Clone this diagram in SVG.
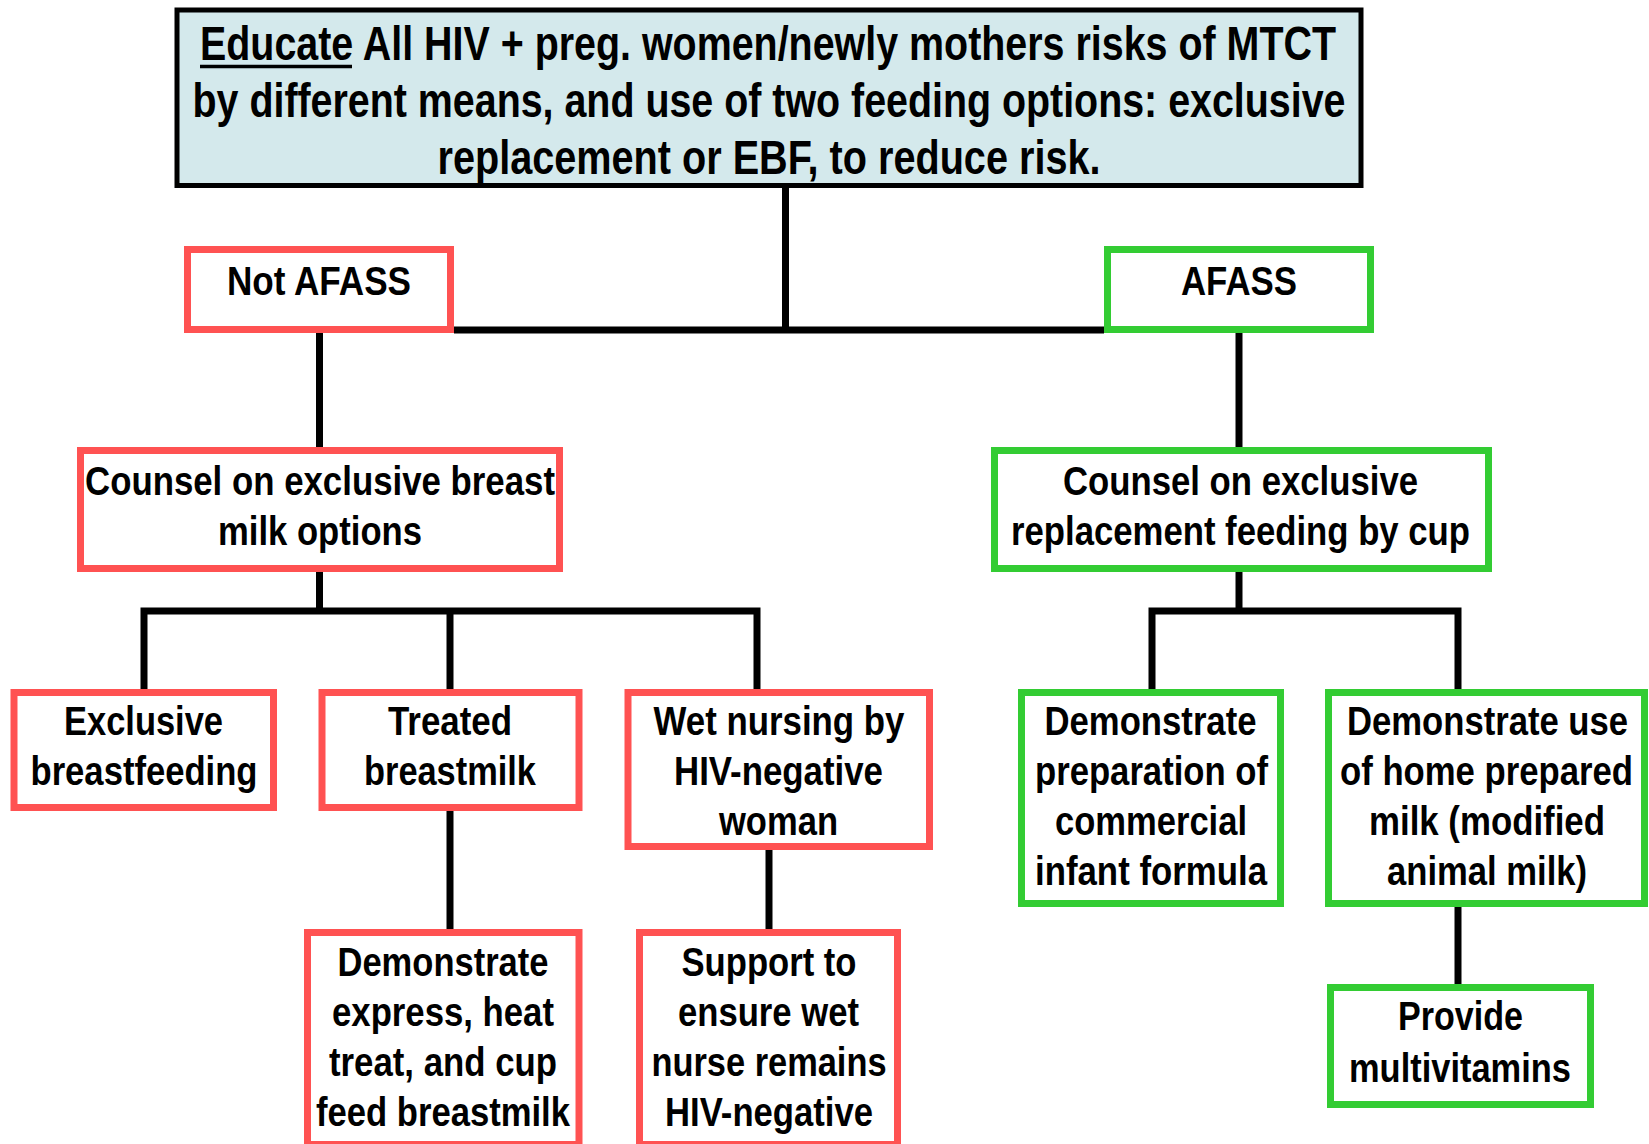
<svg xmlns="http://www.w3.org/2000/svg" width="1649" height="1144" viewBox="0 0 1649 1144">
<style>
.t{font-family:"Liberation Sans",Arial,sans-serif;font-weight:bold;fill:#000;text-anchor:middle}
.b{font-size:41px}
.h{font-size:49px}
.red{fill:#fff;stroke:#ff5252;stroke-width:7}
.grn{fill:#fff;stroke:#33cc33;stroke-width:7}
.top{fill:#d4e9ec;stroke:#000;stroke-width:5}
.c{fill:none;stroke:#000;stroke-width:7;stroke-linejoin:miter}
</style>
<rect width="1649" height="1144" fill="#fff"/>
<g id="connectors">
<path class="c" d="M785.5 187V330"/>
<path class="c" d="M454 330H1104"/>
<path class="c" d="M319.5 333V447"/>
<path class="c" d="M1239 333V447"/>
<path class="c" d="M319.5 572V611"/>
<path class="c" d="M144 689V611H757V689"/>
<path class="c" d="M450 611V689"/>
<path class="c" d="M450 811V929"/>
<path class="c" d="M769 850V929"/>
<path class="c" d="M1239 572V611"/>
<path class="c" d="M1152 689V611H1458V689"/>
<path class="c" d="M1458 907V984"/>
</g>
<g id="educate">
<rect class="top" x="177" y="10" width="1184" height="175.5"/>
<text class="t h" x="768" y="60" textLength="1136" lengthAdjust="spacingAndGlyphs">Educate All HIV + preg. women/newly mothers risks of MTCT</text>
<line x1="200" y1="66.5" x2="352" y2="66.5" stroke="#000" stroke-width="3.5"/>
<text class="t h" x="769" y="117" textLength="1153" lengthAdjust="spacingAndGlyphs">by different means, and use of two feeding options: exclusive</text>
<text class="t h" x="769" y="174" textLength="663" lengthAdjust="spacingAndGlyphs">replacement or EBF, to reduce risk.</text>
</g>
<g id="not-afass">
<rect class="red" x="187.5" y="249.5" width="263" height="80"/>
<text class="t b" x="319" y="295" textLength="184" lengthAdjust="spacingAndGlyphs">Not AFASS</text>
</g>
<g id="afass">
<rect class="grn" x="1107.5" y="249.5" width="263" height="80"/>
<text class="t b" x="1239" y="295" textLength="116" lengthAdjust="spacingAndGlyphs">AFASS</text>
</g>
<g id="counsel-breast">
<rect class="red" x="80.5" y="450.5" width="479" height="118"/>
<text class="t b" x="320" y="495" textLength="470" lengthAdjust="spacingAndGlyphs">Counsel on exclusive breast</text>
<text class="t b" x="320" y="545" textLength="204" lengthAdjust="spacingAndGlyphs">milk options</text>
</g>
<g id="counsel-replacement">
<rect class="grn" x="994.5" y="450.5" width="494" height="118"/>
<text class="t b" x="1240.5" y="495" textLength="355" lengthAdjust="spacingAndGlyphs">Counsel on exclusive</text>
<text class="t b" x="1240.5" y="545" textLength="459" lengthAdjust="spacingAndGlyphs">replacement feeding by cup</text>
</g>
<g id="exclusive-bf">
<rect class="red" x="14" y="692.5" width="259.5" height="115"/>
<text class="t b" x="143.5" y="735" textLength="159" lengthAdjust="spacingAndGlyphs">Exclusive</text>
<text class="t b" x="144" y="785" textLength="227" lengthAdjust="spacingAndGlyphs">breastfeeding</text>
</g>
<g id="treated">
<rect class="red" x="322" y="692.5" width="257" height="115"/>
<text class="t b" x="450" y="735" textLength="124" lengthAdjust="spacingAndGlyphs">Treated</text>
<text class="t b" x="450" y="785" textLength="172" lengthAdjust="spacingAndGlyphs">breastmilk</text>
</g>
<g id="wet-nursing">
<rect class="red" x="628" y="692.5" width="301.5" height="154"/>
<text class="t b" x="779" y="735" textLength="251" lengthAdjust="spacingAndGlyphs">Wet nursing by</text>
<text class="t b" x="778.5" y="785" textLength="209" lengthAdjust="spacingAndGlyphs">HIV-negative</text>
<text class="t b" x="778.5" y="835" textLength="119" lengthAdjust="spacingAndGlyphs">woman</text>
</g>
<g id="demo-express">
<rect class="red" x="307.5" y="932.5" width="271.5" height="212"/>
<text class="t b" x="443" y="976" textLength="211" lengthAdjust="spacingAndGlyphs">Demonstrate</text>
<text class="t b" x="443" y="1026" textLength="222" lengthAdjust="spacingAndGlyphs">express, heat</text>
<text class="t b" x="443" y="1076" textLength="228" lengthAdjust="spacingAndGlyphs">treat, and cup</text>
<text class="t b" x="443" y="1126" textLength="254" lengthAdjust="spacingAndGlyphs">feed breastmilk</text>
</g>
<g id="support">
<rect class="red" x="639.5" y="932.5" width="258" height="212"/>
<text class="t b" x="769" y="976" textLength="175" lengthAdjust="spacingAndGlyphs">Support to</text>
<text class="t b" x="768.5" y="1026" textLength="181" lengthAdjust="spacingAndGlyphs">ensure wet</text>
<text class="t b" x="769" y="1076" textLength="235" lengthAdjust="spacingAndGlyphs">nurse remains</text>
<text class="t b" x="769" y="1126" textLength="208" lengthAdjust="spacingAndGlyphs">HIV-negative</text>
</g>
<g id="demo-commercial">
<rect class="grn" x="1021.5" y="692.5" width="259" height="211"/>
<text class="t b" x="1150.5" y="735" textLength="212" lengthAdjust="spacingAndGlyphs">Demonstrate</text>
<text class="t b" x="1151.5" y="785" textLength="233" lengthAdjust="spacingAndGlyphs">preparation of</text>
<text class="t b" x="1151" y="835" textLength="192" lengthAdjust="spacingAndGlyphs">commercial</text>
<text class="t b" x="1151" y="885" textLength="232" lengthAdjust="spacingAndGlyphs">infant formula</text>
</g>
<g id="demo-home">
<rect class="grn" x="1328.5" y="692.5" width="316" height="211"/>
<text class="t b" transform="translate(1487.5 735) scale(0.85 1)" x="0" y="0" textLength="330.6" lengthAdjust="spacingAndGlyphs">Demonstrate use</text>
<text class="t b" transform="translate(1486.5 785) scale(0.85 1)" x="0" y="0" textLength="344.7" lengthAdjust="spacingAndGlyphs">of home prepared</text>
<text class="t b" transform="translate(1487 835) scale(0.85 1)" x="0" y="0" textLength="277.6" lengthAdjust="spacingAndGlyphs">milk (modified</text>
<text class="t b" transform="translate(1487 885) scale(0.85 1)" x="0" y="0" textLength="235.3" lengthAdjust="spacingAndGlyphs">animal milk)</text>
</g>
<g id="multivitamins">
<rect class="grn" x="1330.5" y="987.5" width="260" height="117"/>
<text class="t b" x="1460.5" y="1030" textLength="125" lengthAdjust="spacingAndGlyphs">Provide</text>
<text class="t b" x="1460" y="1082" textLength="222" lengthAdjust="spacingAndGlyphs">multivitamins</text>
</g>
</svg>
